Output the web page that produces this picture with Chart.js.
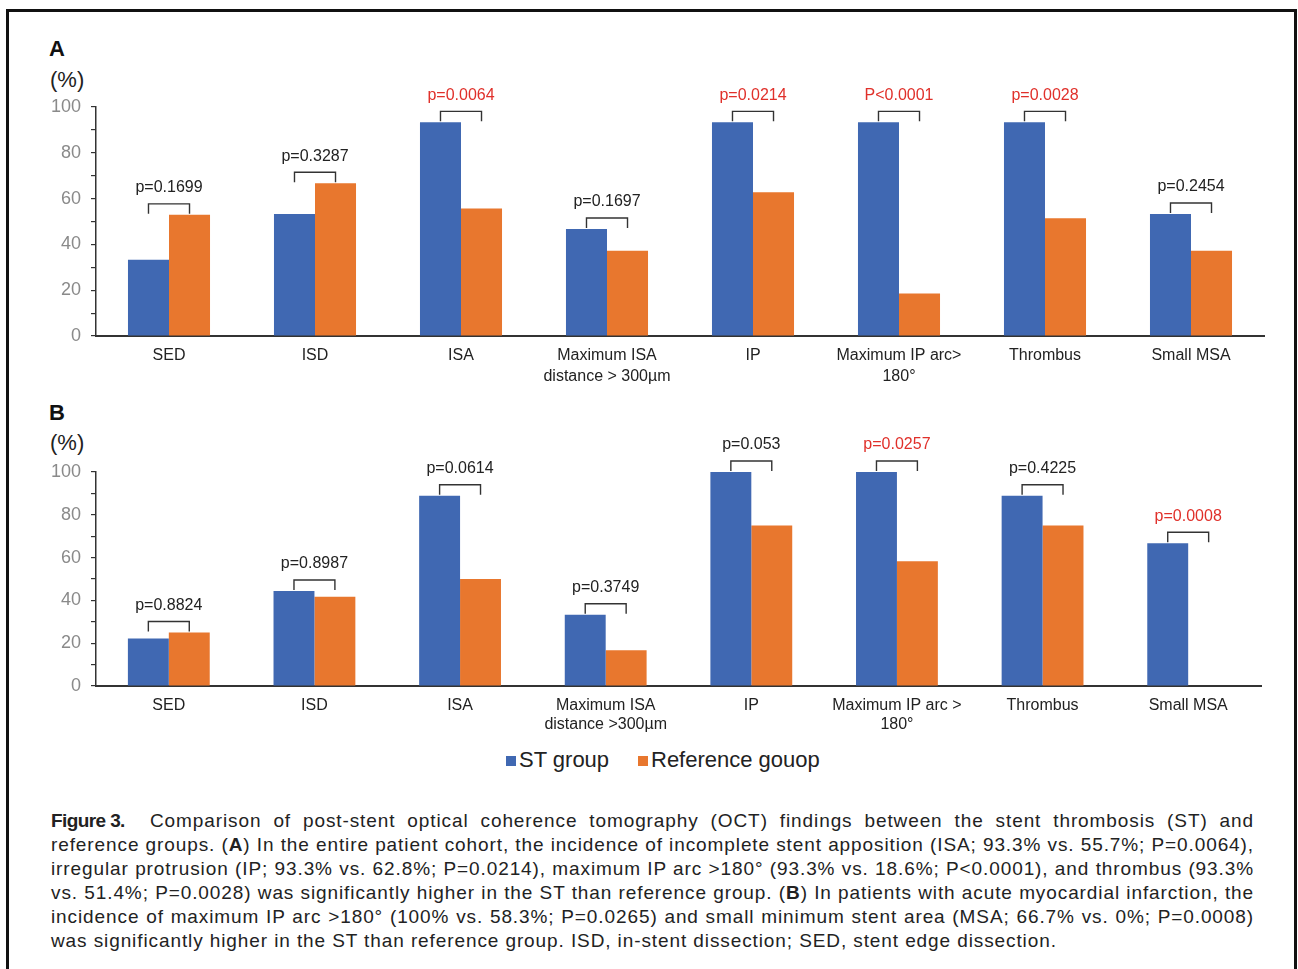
<!DOCTYPE html>
<html>
<head>
<meta charset="utf-8">
<title>Figure 3</title>
<script src="https://cdn.jsdelivr.net/npm/chart.js@4.4.1/dist/chart.umd.min.js"></script>
<style>
  html, body { margin: 0; padding: 0; background: #fff; }
  body { width: 1298px; height: 969px; position: relative; overflow: hidden;
         font-family: "Liberation Sans", Arial, sans-serif; color: #222; }
  .frame { position: absolute; left: 6px; top: 9px; width: 1285px; height: 1000px;
           border: 3px solid #111; }
  .panel-letter { position: absolute; font-weight: bold; font-size: 22px; color: #111; }
  .unit { position: absolute; font-size: 22px; color: #222; }
  canvas.chart { position: absolute; left: 0; }
  .legend { position: absolute; top: 747px; font-size: 22px; color: #222; line-height: 26px; }
  .legend .sw { position: absolute; width: 10px; height: 10px; top: 9px; }
  .legend .lb { position: absolute; white-space: nowrap; }
  .caption { position: absolute; left: 51px; top: 809px; width: 1203px; font-size: 19px;
             letter-spacing: 0.9px; line-height: 24px; color: #222; }
  .caption div { text-align: justify; text-align-last: justify; white-space: nowrap; }
  .caption div.last { text-align-last: left; }
  .caption b.fig { display: inline-block; width: 99px; font-weight: bold; letter-spacing: -0.6px;
                   text-align: left; text-align-last: left; }
</style>
</head>
<body>
<div class="frame"></div>

<div class="panel-letter" style="left:49px; top:36px;">A</div>
<div class="unit" style="left:50px; top:67px;">(%)</div>
<canvas id="chartA" class="chart" width="1298" height="330" style="top:70px;"></canvas>

<div class="panel-letter" style="left:49px; top:400px;">B</div>
<div class="unit" style="left:50px; top:430px;">(%)</div>
<canvas id="chartB" class="chart" width="1298" height="335" style="top:410px;"></canvas>

<div class="legend">
  <span class="sw" style="left:506px; background:#4068B2;"></span>
  <span class="lb" style="left:519px;">ST group</span>
  <span class="sw" style="left:638px; background:#E8772E;"></span>
  <span class="lb" style="left:651px;">Reference gouop</span>
</div>

<div class="caption">
  <div><b class="fig">Figure 3.</b>Comparison of post-stent optical coherence tomography (OCT) findings between the stent thrombosis (ST) and</div>
  <div>reference groups. (<b>A</b>) In the entire patient cohort, the incidence of incomplete stent apposition (ISA; 93.3% vs. 55.7%; P=0.0064),</div>
  <div>irregular protrusion (IP; 93.3% vs. 62.8%; P=0.0214), maximum IP arc &gt;180° (93.3% vs. 18.6%; P&lt;0.0001), and thrombus (93.3%</div>
  <div>vs. 51.4%; P=0.0028) was significantly higher in the ST than reference group. (<b>B</b>) In patients with acute myocardial infarction, the</div>
  <div>incidence of maximum IP arc &gt;180° (100% vs. 58.3%; P=0.0265) and small minimum stent area (MSA; 66.7% vs. 0%; P=0.0008)</div>
  <div class="last">was significantly higher in the ST than reference group. ISD, in-stent dissection; SED, stent edge dissection.</div>
</div>

<script>
// Panel A: entire patient cohort
const categoriesA = ['SED', 'ISD', 'ISA', ['Maximum ISA', 'distance > 300\u00b5m'], 'IP', ['Maximum IP arc>', '180\u00b0'], 'Thrombus', 'Small MSA'];
const stGroupA = [33.3, 53.3, 93.3, 46.7, 93.3, 93.3, 93.3, 53.3];
const referenceA = [52.9, 66.7, 55.7, 37.2, 62.8, 18.6, 51.4, 37.2];
const pValuesA = ['p=0.1699', 'p=0.3287', 'p=0.0064', 'p=0.1697', 'p=0.0214', 'P<0.0001', 'p=0.0028', 'p=0.2454'];
const significantA = [false, false, true, false, true, true, true, false];

// Panel B: acute myocardial infarction patients
const categoriesB = ['SED', 'ISD', 'ISA', ['Maximum ISA', 'distance >300\u00b5m'], 'IP', ['Maximum IP arc >', '180\u00b0'], 'Thrombus', 'Small MSA'];
const stGroupB = [22.2, 44.4, 88.9, 33.3, 100, 100, 88.9, 66.7];
const referenceB = [25.0, 41.7, 50.0, 16.7, 75.0, 58.3, 75.0, 0];
const pValuesB = ['p=0.8824', 'p=0.8987', 'p=0.0614', 'p=0.3749', 'p=0.053', 'p=0.0257', 'p=0.4225', 'p=0.0008'];
const significantB = [false, false, false, false, false, true, false, true];

const yTicks = [0, 20, 40, 60, 80, 100];

const BLUE = '#4068B2';
const ORANGE = '#E8772E';
const FONT = '"Liberation Sans", Arial, sans-serif';

// Draws a comparison bracket over each bar pair with its p-value above it
const bracketPlugin = {
  id: 'pBrackets',
  afterDatasetsDraw(chart, args, opts) {
    const ctx = chart.ctx;
    const m0 = chart.getDatasetMeta(0);
    const m1 = chart.getDatasetMeta(1);
    ctx.save();
    opts.labels.forEach((label, i) => {
      const b0 = m0.data[i], b1 = m1.data[i];
      const top = Math.min(b0.y, b1.y) - 11;
      ctx.beginPath();
      ctx.strokeStyle = '#333';
      ctx.lineWidth = 1.4;
      ctx.moveTo(b0.x, top + 10);
      ctx.lineTo(b0.x, top);
      ctx.lineTo(b1.x, top);
      ctx.lineTo(b1.x, top + 10);
      ctx.stroke();
      ctx.fillStyle = opts.significant[i] ? '#E0302A' : '#222';
      ctx.font = '16px ' + FONT;
      ctx.textAlign = 'center';
      ctx.textBaseline = 'middle';
      ctx.fillText(label, (b0.x + b1.x) / 2, top - 16);
    });
    ctx.restore();
  }
};

function makeChart(id, categories, st, ref, pLabels, sig, padding, xHeight, labelPad, labelLine) {
  return new Chart(document.getElementById(id), {
    type: 'bar',
    data: {
      labels: categories,
      datasets: [
        { label: 'ST group', data: st, backgroundColor: BLUE, borderWidth: 0,
          categoryPercentage: 0.562, barPercentage: 1 },
        { label: 'Reference gouop', data: ref, backgroundColor: ORANGE, borderWidth: 0,
          categoryPercentage: 0.562, barPercentage: 1 }
      ]
    },
    options: {
      responsive: false,
      animation: false,
      events: [],
      layout: { padding: padding },
      plugins: {
        legend: { display: false },
        tooltip: { enabled: false },
        pBrackets: { labels: pLabels, significant: sig }
      },
      scales: {
        x: {
          grid: { display: false, drawTicks: false, tickLength: 0 },
          border: { display: true, color: '#333', width: 2 },
          ticks: { color: '#222', font: { family: FONT, size: 16, lineHeight: labelLine },
                   padding: labelPad, maxRotation: 0, autoSkip: false },
          afterFit(scale) { scale.height = xHeight; }
        },
        y: {
          min: 0, max: 100,
          grid: { display: true, drawOnChartArea: false, drawTicks: true,
                  tickLength: 5, color: '#333', lineWidth: 1.2 },
          border: { display: true, color: '#333', width: 1.5 },
          ticks: { stepSize: 10, autoSkip: false, padding: 10, color: '#8a8a8a',
                   font: { family: FONT, size: 18 },
                   callback: v => yTicks.includes(v) ? v : '' },
          afterFit(scale) { scale.width = 96; }
        }
      }
    },
    plugins: [bracketPlugin]
  });
}

makeChart('chartA', categoriesA, stGroupA, referenceA, pValuesA, significantA,
  { left: 0, right: 34, top: 37, bottom: 0 }, 64, 9, 1.3);
makeChart('chartB', categoriesB, stGroupB, referenceB, pValuesB, significantB,
  { left: 0, right: 37, top: 62, bottom: 0 }, 59, 10, 1.2);
</script>
</body>
</html>
